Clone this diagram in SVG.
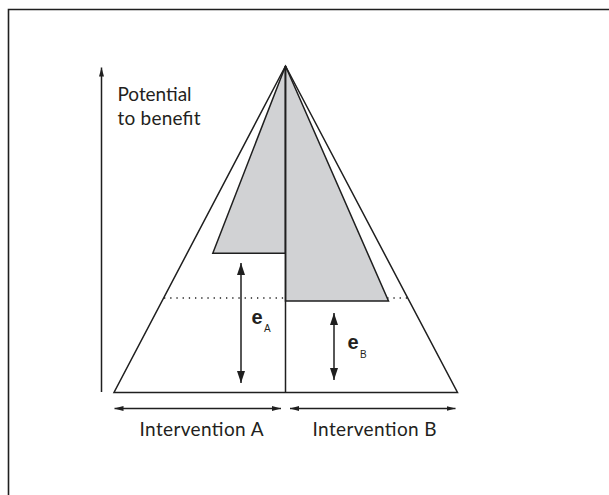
<svg xmlns="http://www.w3.org/2000/svg" width="609" height="495" viewBox="0 0 609 495">
  <style>
    .frame { fill: none; stroke: #1f1f1f; stroke-width: 1.6; }
    .edge { fill: none; stroke: #1f1f1f; stroke-width: 1.5; stroke-linejoin: miter; }
    .shade { fill: #d1d2d4; stroke: #1f1f1f; stroke-width: 1.5; stroke-linejoin: miter; }
    .dots { fill: none; stroke: #1f1f1f; stroke-width: 1.3; stroke-dasharray: 1.3 4.9; }
    .axis { fill: none; stroke: #1f1f1f; stroke-width: 1.5; }
    .label { font-family: Lato, "Liberation Sans", sans-serif; font-size: 19px; fill: #231f20; }
    .sym { font-family: "Liberation Sans", sans-serif; font-weight: bold; font-size: 20px; fill: #231f20; }
    .sub { font-family: "Liberation Sans", sans-serif; font-size: 10px; fill: #231f20; }
  </style>
  <defs>
    <marker id="head-lg" viewBox="0 0 12 8" refX="12" refY="4" markerWidth="12" markerHeight="8" markerUnits="userSpaceOnUse" orient="auto-start-reverse">
      <path d="M0,0 L12,4 L0,8 Z" fill="#1f1f1f"/>
    </marker>
    <marker id="head-sm" viewBox="0 0 9 5" refX="9" refY="2.5" markerWidth="9" markerHeight="5" markerUnits="userSpaceOnUse" orient="auto-start-reverse">
      <path d="M0,0 L9,2.5 L0,5 Z" fill="#1f1f1f"/>
    </marker>
  </defs>

  <rect width="609" height="495" fill="#ffffff"/>

  <!-- page frame: top and left rules -->
  <path class="frame" d="M8.5,495 L8.5,9.5 L609,9.5"/>

  <!-- whole population triangle -->
  <g id="population">
    <path class="edge" d="M285.5,66 L114,392.5 L457.5,392.5 Z" fill="#ffffff"/>
  </g>

  <!-- threshold line across the triangle -->
  <g id="threshold">
    <line class="dots" x1="164" y1="298" x2="408" y2="298"/>
  </g>

  <!-- benefit shares for each intervention -->
  <g id="benefit-a">
    <path class="shade" d="M285.5,66 L212.8,253.3 L285.5,253.3 Z"/>
  </g>
  <g id="benefit-b">
    <path class="shade" d="M285.5,66 L388.5,301 L285.5,301 Z"/>
  </g>

  <!-- split between the two interventions -->
  <g id="divider">
    <line class="edge" x1="285.5" y1="66" x2="285.5" y2="392.5"/>
  </g>

  <g id="connectors">
    <line class="axis" x1="101.5" y1="392" x2="101.5" y2="67.5" marker-end="url(#head-sm)"/>
    <line class="axis" x1="241" y1="263" x2="241" y2="383" marker-start="url(#head-lg)" marker-end="url(#head-lg)"/>
    <line class="axis" x1="334" y1="313" x2="334" y2="380" marker-start="url(#head-lg)" marker-end="url(#head-lg)"/>
    <line class="axis" x1="114.5" y1="408.5" x2="281" y2="408.5" marker-start="url(#head-sm)" marker-end="url(#head-sm)"/>
    <line class="axis" x1="290" y1="408.5" x2="455.5" y2="408.5" marker-start="url(#head-sm)" marker-end="url(#head-sm)"/>
  </g>

  <g id="axis-label">
    <text class="label" x="117.5" y="101" textLength="74" lengthAdjust="spacing">Potential</text>
    <text class="label" x="117.5" y="124.5" textLength="83" lengthAdjust="spacing">to benefit</text>
  </g>

  <g id="effect-a">
    <text class="sym" x="251.5" y="323.5">e</text>
    <text class="sub" x="264" y="332">A</text>
  </g>
  <g id="effect-b">
    <text class="sym" x="347.5" y="349">e</text>
    <text class="sub" x="360" y="357.5">B</text>
  </g>

  <g id="label-a">
    <text class="label" x="139.5" y="435.5" textLength="124" lengthAdjust="spacing">Intervention A</text>
  </g>
  <g id="label-b">
    <text class="label" x="312.5" y="435.5" textLength="124" lengthAdjust="spacing">Intervention B</text>
  </g>
</svg>
